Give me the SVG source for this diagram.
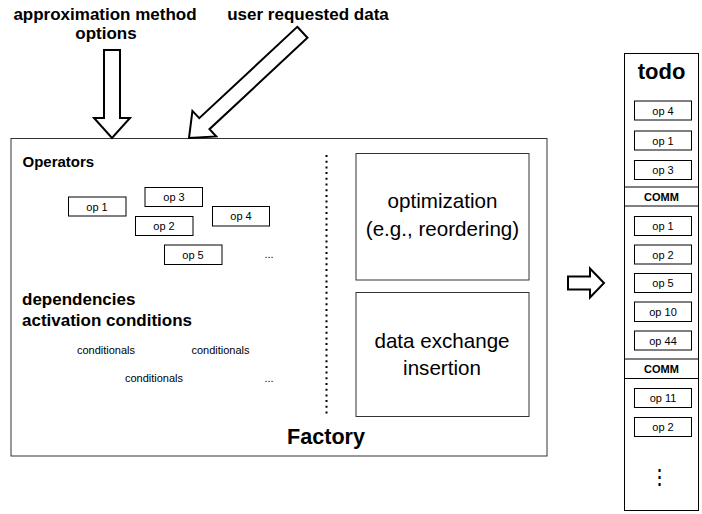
<svg xmlns="http://www.w3.org/2000/svg" width="702" height="514" viewBox="0 0 702 514">
  <style>
    text { font-family: "Liberation Sans", Arial, sans-serif; fill: #000; }
    .hdr { font-size: 17px; font-weight: bold; }
    .op { fill: #fff; stroke: #000; stroke-width: 1; }
    .opt { font-size: 11px; text-anchor: middle; }
    .cond { font-size: 11px; text-anchor: middle; }
    .big { font-size: 20.6px; text-anchor: middle; }
    .panel { fill: #fff; stroke: #333; stroke-width: 1; }
    .hollow { fill: #fff; stroke: #000; stroke-width: 2; stroke-linejoin: miter; }
  </style>
  <rect width="702" height="514" fill="#fff"/>

  <!-- inputs -->
  <g id="input-options">
    <text class="hdr" x="105" y="20" text-anchor="middle">approximation method</text>
    <text class="hdr" x="106" y="39" text-anchor="middle">options</text>
  </g>
  <g id="input-data">
    <text class="hdr" x="308" y="20" text-anchor="middle">user requested data</text>
  </g>

  <!-- factory -->
  <g id="factory">
    <rect class="panel" x="11" y="138.5" width="536" height="317.5"/>
    <text x="22.5" y="167" font-size="15" font-weight="bold">Operators</text>
    <text class="hdr" x="22" y="305">dependencies</text>
    <text class="hdr" x="22" y="325.5">activation conditions</text>
    <text x="326" y="444" font-size="21.6" font-weight="bold" text-anchor="middle">Factory</text>
    <line x1="326.5" y1="155" x2="326.5" y2="417" stroke="#000" stroke-width="2" stroke-dasharray="2 3.7"/>
  </g>

  <g id="op1"><rect class="op" x="68.5" y="197" width="57.5" height="19"/><text class="opt" x="97" y="210.5">op 1</text></g>
  <g id="op3"><rect class="op" x="145" y="187.5" width="57.5" height="19"/><text class="opt" x="174" y="201">op 3</text></g>
  <g id="op2"><rect class="op" x="135.5" y="216.5" width="57.5" height="19"/><text class="opt" x="164" y="230">op 2</text></g>
  <g id="op4"><rect class="op" x="212.5" y="206.5" width="57" height="19.5"/><text class="opt" x="241" y="220">op 4</text></g>
  <g id="op5"><rect class="op" x="164.5" y="245" width="57.5" height="19.5"/><text class="opt" x="193" y="258.5">op 5</text></g>
  <g id="op-more"><text class="cond" x="269" y="258">...</text></g>

  <g id="conditionals">
    <text class="cond" x="106" y="354">conditionals</text>
    <text class="cond" x="220.5" y="354">conditionals</text>
    <text class="cond" x="154" y="382">conditionals</text>
    <text class="cond" x="269" y="382">...</text>
  </g>

  <g id="optimization">
    <rect class="panel" x="356" y="153.5" width="173" height="126.5"/>
    <text class="big" x="442.5" y="208">optimization</text>
    <text class="big" x="442.5" y="236">(e.g., reordering)</text>
  </g>
  <g id="data-exchange">
    <rect class="panel" x="356" y="292.5" width="173" height="124"/>
    <text class="big" x="442" y="348">data exchange</text>
    <text class="big" x="442" y="375">insertion</text>
  </g>

  <!-- todo list -->
  <g id="todo">
    <rect x="624.5" y="53.5" width="74" height="457" fill="#fff" stroke="#000" stroke-width="1"/>
    <text x="661.5" y="79" font-size="22" font-weight="bold" text-anchor="middle">todo</text>
    <g>
      <rect class="op" x="634.5" y="101" width="57" height="19"/><text class="opt" x="663" y="114.5">op 4</text>
      <rect class="op" x="634.5" y="131" width="57" height="19"/><text class="opt" x="663" y="144.5">op 1</text>
      <rect class="op" x="634.5" y="160.5" width="57" height="19"/><text class="opt" x="663" y="174">op 3</text>
    </g>
    <rect x="624.5" y="187" width="74" height="19" fill="#fff" stroke="#000" stroke-width="1"/>
    <text x="661.5" y="200.5" font-size="11" font-weight="bold" text-anchor="middle">COMM</text>
    <g>
      <rect class="op" x="634.5" y="216.5" width="57" height="19"/><text class="opt" x="663" y="230">op 1</text>
      <rect class="op" x="634.5" y="245" width="57" height="19"/><text class="opt" x="663" y="258.5">op 2</text>
      <rect class="op" x="634.5" y="273.5" width="57" height="19"/><text class="opt" x="663" y="287">op 5</text>
      <rect class="op" x="634.5" y="302" width="57" height="19.5"/><text class="opt" x="663" y="315.5">op 10</text>
      <rect class="op" x="634.5" y="331" width="57" height="19"/><text class="opt" x="663" y="344.5">op 44</text>
    </g>
    <rect x="624.5" y="359" width="74" height="19.5" fill="#fff" stroke="#000" stroke-width="1"/>
    <text x="661.5" y="372.5" font-size="11" font-weight="bold" text-anchor="middle">COMM</text>
    <g>
      <rect class="op" x="634.5" y="388.5" width="57" height="19"/><text class="opt" x="663" y="402">op 11</text>
      <rect class="op" x="634.5" y="417.5" width="57" height="19"/><text class="opt" x="663" y="431">op 2</text>
    </g>
    <text x="659" y="484" font-size="21" text-anchor="middle">⋮</text>
  </g>

  <!-- connectors: hollow block arrows, each drawn with its tip at the local origin pointing down -->
  <g id="connectors">
    <polygon class="hollow" transform="translate(112,138)" points="-8,-88 8,-88 8,-20 18,-20 0,0 -18,-20 -8,-20"/>
    <polygon class="hollow" transform="translate(189,138) rotate(47)" points="-7.5,-155 7.5,-155 7.5,-21 17.5,-21 0,0 -17.5,-21 -7.5,-21"/>
    <polygon class="hollow" points="568,276.5 590,276.5 590,268.5 604,283 590,297.5 590,289.5 568,289.5"/>
  </g>
</svg>
